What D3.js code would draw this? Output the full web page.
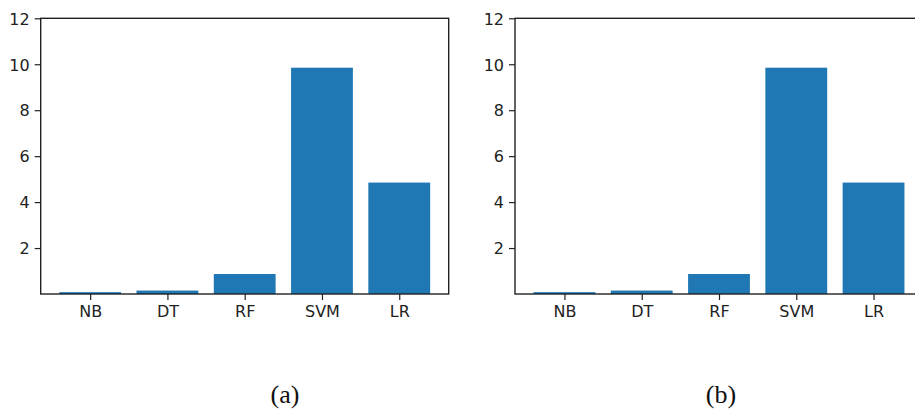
<!DOCTYPE html>
<html>
<head>
<meta charset="utf-8">
<script src="https://cdn.jsdelivr.net/npm/d3@7"></script>
<style>
  html, body { margin: 0; padding: 0; background: #fff; }
  svg { display: block; }
  .tick text { font-family: "DejaVu Sans", sans-serif; font-size: 16px; fill: #222; }
  .caption { font-family: "Liberation Serif", "Times New Roman", serif; font-size: 26px; fill: #111; }
</style>
</head>
<body>
<div id="chart"></div>
<script>
// Data (both panels show the same values)
const models = ['NB', 'DT', 'RF', 'SVM', 'LR'];
const valuesA = [0.08, 0.15, 0.87, 9.85, 4.85];
const valuesB = [0.08, 0.15, 0.87, 9.85, 4.85];
const yTicks = [2, 4, 6, 8, 10, 12];
const captions = ['(a)', '(b)'];

const W = 915, H = 412;
const plotW = 408;
const plotTop = 18.3, plotBottom = 294;
const panels = [
  { left: 40.7, values: valuesA, caption: captions[0], capX: 285 },
  { left: 515, values: valuesB, caption: captions[1], capX: 721 }
];

const svg = d3.select('#chart').append('svg').attr('width', W).attr('height', H);

const xScale = d3.scaleLinear().domain([-0.64, 4.64]).range([0, plotW]);
const yScale = d3.scaleLinear().domain([0, 12]).range([plotBottom - plotTop, 0]);
const barW = xScale(0.8) - xScale(0);

panels.forEach(p => {
  const g = svg.append('g').attr('transform', `translate(${p.left},${plotTop})`);
  const h = plotBottom - plotTop;

  // Bars
  g.selectAll('.bar')
    .data(p.values)
    .join('rect')
    .attr('class', 'bar')
    .attr('x', (d, i) => xScale(i) - barW / 2)
    .attr('width', barW)
    .attr('y', d => yScale(d))
    .attr('height', d => h - yScale(d))
    .attr('fill', '#1f77b4');

  // Axes
  const yAxis = g.append('g')
    .call(d3.axisLeft(yScale).tickValues(yTicks).tickSize(6).tickPadding(5));
  const xAxis = g.append('g')
    .attr('transform', `translate(0,${h})`)
    .call(d3.axisBottom(xScale).tickValues(d3.range(models.length))
      .tickFormat(i => models[i]).tickSize(6).tickPadding(6));
  [yAxis, xAxis].forEach(a => {
    a.select('.domain').remove();
    a.selectAll('.tick line').attr('stroke', '#222').attr('stroke-width', 1.2);
  });
  yAxis.selectAll('.tick text').attr('dy', '0.36em');

  // Spines
  g.append('rect')
    .attr('x', 0).attr('y', 0)
    .attr('width', plotW).attr('height', h)
    .attr('fill', 'none')
    .attr('stroke', '#222')
    .attr('stroke-width', 1.4);

  svg.append('text')
    .attr('class', 'caption')
    .attr('x', p.capX)
    .attr('y', 403)
    .attr('text-anchor', 'middle')
    .text(p.caption);
});
</script>
</body>
</html>
